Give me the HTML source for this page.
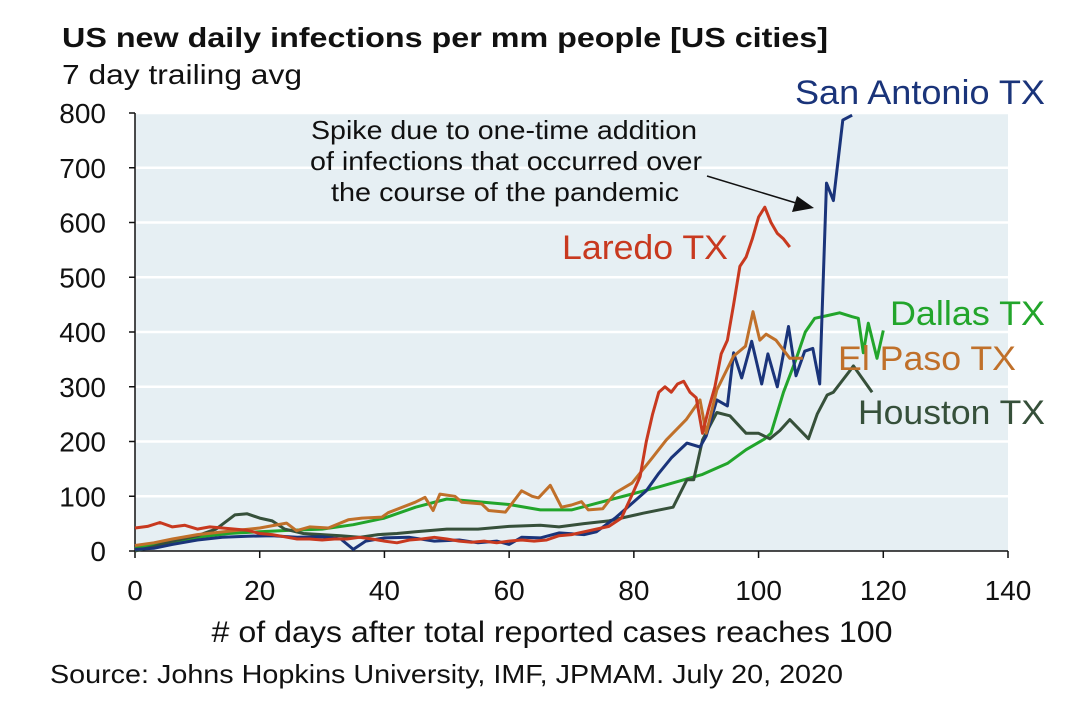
<!DOCTYPE html>
<html><head><meta charset="utf-8"><style>
body{margin:0;background:#fff;}
svg{display:block;font-family:"Liberation Sans",sans-serif;}
</style></head><body>
<svg id="c" width="1092" height="716" viewBox="0 0 1092 716">
<text x="62" y="47" font-size="28" font-weight="bold" fill="#111" textLength="766" lengthAdjust="spacingAndGlyphs">US new daily infections per mm people [US cities]</text>
<text x="62" y="84" font-size="28" fill="#111" textLength="240" lengthAdjust="spacingAndGlyphs">7 day trailing avg</text>
<rect x="135" y="113" width="873" height="438" fill="#e6eff3"/>
<g id="grid"></g>
<g id="axes"></g>
<g id="series"></g>
<text x="504" y="139" font-size="26" text-anchor="middle" fill="#111" textLength="386" lengthAdjust="spacingAndGlyphs">Spike due to one-time addition</text>
<text x="506" y="170" font-size="26" text-anchor="middle" fill="#111" textLength="392" lengthAdjust="spacingAndGlyphs">of infections that occurred over</text>
<text x="505" y="201" font-size="26" text-anchor="middle" fill="#111" textLength="348" lengthAdjust="spacingAndGlyphs">the course of the pandemic</text>
<line x1="707" y1="176" x2="796" y2="203" stroke="#111" stroke-width="1.5"/>
<polygon points="814,208 792,212 797,196" fill="#111"/>
<text x="795" y="104" font-size="34" fill="#1a347a" textLength="250" lengthAdjust="spacingAndGlyphs">San Antonio TX</text>
<text x="562" y="259" font-size="34" fill="#c8391f" textLength="166" lengthAdjust="spacingAndGlyphs">Laredo TX</text>
<text x="890" y="325" font-size="34" fill="#22a52b" textLength="155" lengthAdjust="spacingAndGlyphs">Dallas TX</text>
<text x="838" y="370" font-size="34" fill="#c0702a" textLength="178" lengthAdjust="spacingAndGlyphs">El Paso TX</text>
<text x="858" y="424" font-size="34" fill="#36503a" textLength="187" lengthAdjust="spacingAndGlyphs">Houston TX</text>
<text x="552" y="642" font-size="30" text-anchor="middle" fill="#111" textLength="681" lengthAdjust="spacingAndGlyphs"># of days after total reported cases reaches 100</text>
<text x="50" y="683" font-size="26" fill="#111" textLength="793" lengthAdjust="spacingAndGlyphs">Source: Johns Hopkins University, IMF, JPMAM. July 20, 2020</text>
</svg>
<script>
const xTicks=[0,20,40,60,80,100,120,140];
const yTicks=[0,100,200,300,400,500,600,700,800];
const laredo=[[0,42],[2,45],[4,52],[6,44],[8,47],[10,40],[12,44],[14,42],[16,40],[18,38],[20,32],[22,30],[24,26],[26,22],[28,22],[30,20],[32,22],[34,22],[36,25],[38,22],[40,18],[42,15],[44,20],[46,22],[48,25],[50,22],[52,18],[54,16],[56,18],[58,15],[60,18],[62,20],[64,18],[66,20],[68,28],[70,30],[72,35],[74,40],[76,45],[78,60],[80,110],[81,136],[82,200],[83,250],[84,290],[85,300],[86,290],[87,305],[88,310],[89,290],[90,280],[91,215],[92,260],[93,300],[94,360],[95,385],[96,450],[97,520],[98,537],[99,570],[100,610],[101,628],[102,600],[103,580],[104,570],[105,555]];
const sanAntonio=[[0,3],[3,5],[6,12],[10,20],[14,25],[18,27],[22,28],[26,25],[30,26],[33,22],[35,3],[37,18],[40,24],[44,25],[48,18],[52,20],[55,15],[58,18],[60,12],[62,25],[65,24],[68,33],[72,30],[74,35],[77,60],[79,80],[82,110],[84,142],[86,170],[88.5,197],[90.6,190],[91.6,210],[93.3,276],[95,265],[96,362],[97.3,316],[98.9,383],[100.5,305],[101.5,360],[103,300],[104.8,410],[106,320],[107.4,365],[108.7,370],[109.8,305],[110.9,672],[112,640],[113.5,787],[115,796]];
const dallas=[[0,5],[5,15],[10,25],[15,32],[20,35],[25,38],[30,40],[35,48],[40,60],[45,80],[50,95],[55,90],[60,85],[65,75],[70,75],[75,90],[80,105],[84,117],[88,130],[91,140],[93,150],[95,160],[98,185],[101,205],[102,215],[104,290],[106,350],[107.5,400],[109,425],[111,430],[113,435],[115,428],[116,425],[116.8,362],[117.6,416],[119,352],[120,403]];
const houston=[[0,0],[3,8],[6,18],[10,28],[13,40],[16,66],[18,68],[20,60],[22,55],[24,40],[27,32],[30,30],[33,28],[36,25],[39,30],[42,32],[45,35],[50,40],[55,40],[60,45],[65,47],[68,44],[72,50],[76,55],[81.5,69],[86.3,80],[88.5,130],[89.6,130],[91,203],[93.3,253],[95.4,247],[98,215],[100,215],[101.8,205],[103.4,220],[105,240],[108,205],[109.4,250],[111,285],[112,290],[114.7,330],[115.2,338],[118.2,290]];
const elPaso=[[0,10],[3,15],[6,22],[10,30],[15,36],[20,42],[24.3,51],[25.9,37],[28,44],[31,42],[34.2,57],[36.4,60],[39.6,62],[40.6,70],[44.9,89],[46.5,98],[47.8,74],[48.9,104],[51.3,100],[52.4,89],[55.6,86],[56.7,74],[59.4,71],[62,110],[63.7,100],[64.7,97],[66.6,120],[68.4,80],[70,84],[71.6,90],[72.7,75],[75,77],[77,106],[79.7,124],[83,171],[85.2,203],[88.4,240],[90.6,276],[91.6,215],[93.3,294],[96,356],[97.9,374],[99.1,437],[100.2,385],[101.2,396],[102.8,385],[105,352],[107.1,352]];
const X0=135,X1=1008,Y0=551,Y1=113;
const sx=d=>X0+(X1-X0)*d/140, sy=v=>Y0-(Y0-Y1)*v/800;
const NS="http://www.w3.org/2000/svg";
function mk(t,a,p){const e=document.createElementNS(NS,t);for(const k in a)e.setAttribute(k,a[k]);p.appendChild(e);return e;}
const grid=document.getElementById('grid'),axes=document.getElementById('axes'),ser=document.getElementById('series');
yTicks.forEach(v=>{
  if(v>0){const g=mk('line',{x1:X0,x2:X1,y1:sy(v),y2:sy(v),stroke:'#fff','stroke-width':2.5},grid);
  
  }
  const t=mk('line',{x1:X0-6,x2:X0,y1:sy(v),y2:sy(v),stroke:'#111','stroke-width':1.5},axes);
  
  
  const l=mk('text',{x:106,y:sy(v)+10,'font-size':28,'text-anchor':'end',fill:'#111'},axes);l.textContent=v;
  
  
});
xTicks.forEach(d=>{
  const t=mk('line',{x1:sx(d),x2:sx(d),y1:Y0,y2:Y0+7,stroke:'#111','stroke-width':1.5},axes);
  
  
  const l=mk('text',{x:sx(d),y:600,'font-size':28,'text-anchor':'middle',fill:'#111'},axes);l.textContent=d;
  
  
});
const ya=mk('line',{x1:X0,x2:X0,y1:Y1,y2:Y0,stroke:'#111','stroke-width':1.5},axes);


const xa=mk('line',{x1:X0,x2:X1,y1:Y0,y2:Y0,stroke:'#111','stroke-width':1.5},axes);


function line(data,col,name){
  const p=mk('path',{d:data.map((q,i)=>(i?'L':'M')+sx(q[0]).toFixed(1)+','+sy(q[1]).toFixed(1)).join(''),fill:'none',stroke:col,'stroke-width':3,'stroke-linejoin':'round'},ser);
  
  
}
line(dallas,'#22a52b','line-dallas');
line(houston,'#36503a','line-houston');
line(sanAntonio,'#1a347a','line-san-antonio');
line(elPaso,'#c0702a','line-el-paso');
line(laredo,'#c8391f','line-laredo');
</script>
</body></html>
